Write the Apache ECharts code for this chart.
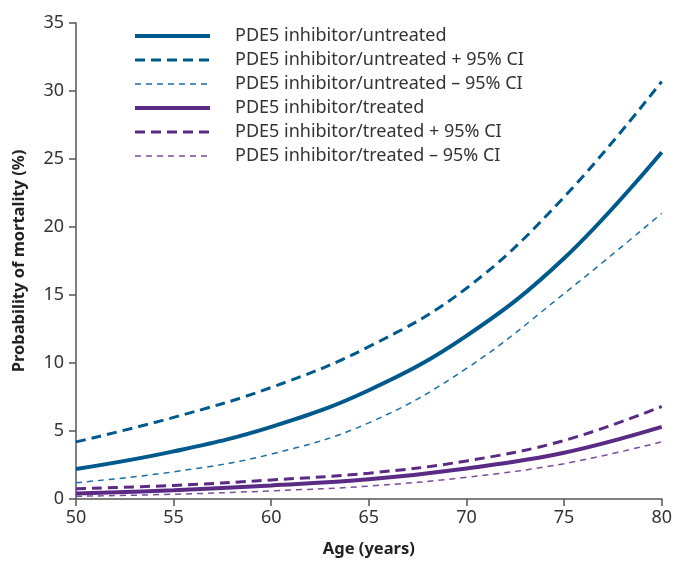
<!DOCTYPE html>
<html>
<head>
<meta charset="utf-8">
<script src="https://cdn.jsdelivr.net/npm/echarts@6/dist/echarts.min.js"></script>
<style>html,body{margin:0;padding:0;background:#fff}#c{width:675px;height:563px}</style>
</head>
<body>
<div id="c"></div>
<script>
const ages = [50, 55, 60, 65, 70, 75, 80];
const untreated      = [2.2, 3.5, 5.3, 8.0, 12.0, 17.7, 25.5];
const untreatedUpper = [4.2, 6.0, 8.2, 11.2, 15.5, 22.2, 30.7];
const untreatedLower = [1.2, 2.0, 3.3, 5.6, 9.6, 15.1, 21.0];
const treated        = [0.4, 0.65, 1.0, 1.45, 2.25, 3.4, 5.3];
const treatedUpper   = [0.75, 1.0, 1.4, 1.9, 2.8, 4.3, 6.8];
const treatedLower   = [0.2, 0.35, 0.6, 0.95, 1.6, 2.6, 4.2];
const names = [
  'PDE5 inhibitor/untreated',
  'PDE5 inhibitor/untreated + 95% CI',
  'PDE5 inhibitor/untreated \u2013 95% CI',
  'PDE5 inhibitor/treated',
  'PDE5 inhibitor/treated + 95% CI',
  'PDE5 inhibitor/treated \u2013 95% CI'
];
const yTicks = [0, 5, 10, 15, 20, 25, 30, 35];
const xTicks = [50, 55, 60, 65, 70, 75, 80];

const BLUE = '#00598c', BLUE2 = '#1a6ea6', PURP = '#5a2a84', PURP2 = '#7a4c9e';
const styles = [
  { color: BLUE, width: 4, type: 'solid' },
  { color: BLUE, width: 3, type: [10, 6] },
  { color: BLUE2, width: 1.5, type: [6, 5] },
  { color: PURP, width: 4, type: 'solid' },
  { color: PURP, width: 3, type: [10, 6] },
  { color: PURP2, width: 1.5, type: [6, 5] }
];
const seriesVals = [untreated, untreatedUpper, untreatedLower, treated, treatedUpper, treatedLower];
const FONT = '"Noto Sans", Lato, sans-serif';
const chart = echarts.init(document.getElementById('c'), null, { renderer: 'canvas' });
chart.setOption({
  animation: false,
  grid: { left: 76, right: 11, top: 23, bottom: 59 },
  legend: {
    orient: 'vertical', left: 133, top: 27, padding: 0,
    itemWidth: 75, itemHeight: 14, itemGap: 6,
    itemStyle: { opacity: 0 },
    textStyle: { fontSize: 18, lineHeight: 16, color: '#333', fontFamily: FONT, padding: [0, 0, 0, 20] },
    data: names.map((n, i) => ({ name: n, lineStyle: { width: styles[i].width, type: styles[i].type, color: styles[i].color } }))
  },
  xAxis: {
    type: 'value', min: 50, max: 80, interval: 5,
    name: 'Age (years)', nameLocation: 'middle', nameGap: 42,
    nameTextStyle: { fontSize: 16.5, fontWeight: 'bold', color: '#222', fontFamily: FONT },
    axisLine: { lineStyle: { color: '#555', width: 1.5 } },
    axisTick: { length: 7, lineStyle: { color: '#555', width: 1.5 } },
    axisLabel: { fontSize: 18, color: '#333', fontFamily: FONT, margin: 10,
      formatter: v => xTicks.includes(v) ? String(v) : '' },
    splitLine: { show: false }
  },
  yAxis: {
    type: 'value', min: 0, max: 35, interval: 5,
    name: 'Probability of mortality (%)', nameLocation: 'middle', nameGap: 48,
    nameTextStyle: { fontSize: 16.5, fontWeight: 'bold', color: '#222', fontFamily: FONT },
    axisLine: { show: true, lineStyle: { color: '#555', width: 1.5 } },
    axisTick: { show: true, length: 7, lineStyle: { color: '#555', width: 1.5 } },
    axisLabel: { fontSize: 18, color: '#333', fontFamily: FONT, margin: 12,
      formatter: v => yTicks.includes(v) ? String(v) : '' },
    splitLine: { show: false }
  },
  series: names.map((n, i) => ({
    name: n, type: 'line', smooth: 0.4, showSymbol: false, symbol: 'none',
    data: ages.map((a, k) => [a, seriesVals[i][k]]),
    lineStyle: styles[i],
    itemStyle: { color: styles[i].color },
    z: 3
  }))
});
</script>
</body>
</html>
